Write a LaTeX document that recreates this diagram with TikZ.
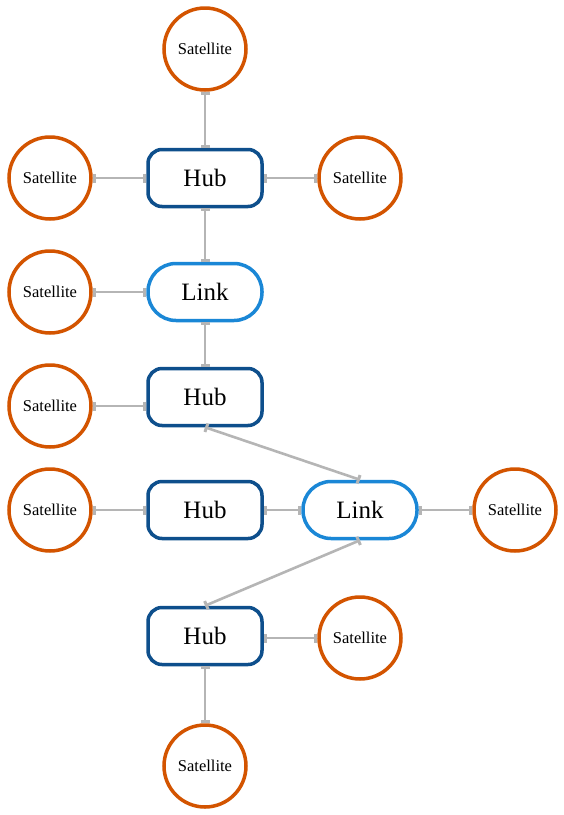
\documentclass[tikz,border=0pt]{standalone}
\usepackage{fontspec}
\setmainfont{Liberation Serif}
\usetikzlibrary{arrows.meta}
\definecolor{satc}{HTML}{D35400}
\definecolor{hubc}{HTML}{0E4F8C}
\definecolor{linkc}{HTML}{1A87D6}
\definecolor{edgec}{HTML}{B5B5B5}
\tikzset{
  sat/.style={circle,draw=satc,line width=3.5pt,minimum size=82pt,inner sep=0pt,fill=white,font=\fontsize{16.5}{19}\selectfont},
  hubbox/.style={rectangle,rounded corners=14pt,draw=hubc,line width=3.5pt,minimum width=114pt,minimum height=57pt,fill=white,font=\fontsize{25}{28}\selectfont},
  linkbox/.style={rectangle,rounded corners=28pt,draw=linkc,line width=3.5pt,minimum width=114pt,minimum height=57pt,fill=white,font=\fontsize{25}{28}\selectfont},
  conn/.style={draw=edgec,line width=2.6pt,{Bar[width=9pt,line width=3pt]}-{Bar[width=9pt,line width=3pt]}}
}
\begin{document}
\begin{tikzpicture}[x=1pt,y=-1pt]
\useasboundingbox (0,0) rectangle (564,815);
\node[sat] (s1) at (205,49) {Satellite};
\node[hubbox] (h1) at (205,178) {Hub};
\node[sat] (s2) at (50,178) {Satellite};
\node[sat] (s3) at (360,178) {Satellite};
\node[linkbox] (l1) at (205,292) {Link};
\node[sat] (s4) at (50,292) {Satellite};
\node[hubbox] (h2) at (205,397) {Hub};
\node[sat] (s5) at (50,406) {Satellite};
\node[hubbox] (h3) at (205,510) {Hub};
\node[sat] (s6) at (50,510) {Satellite};
\node[linkbox] (l2) at (360,510) {Link};
\node[sat] (s7) at (515,510) {Satellite};
\node[hubbox] (h4) at (205,636) {Hub};
\node[sat] (s8) at (360,638) {Satellite};
\node[sat] (s9) at (205,766) {Satellite};
\draw[conn] (s1.south) -- (h1.north);
\draw[conn] (h1.west) -- (s2.east);
\draw[conn] (h1.east) -- (s3.west);
\draw[conn] (h1.south) -- (l1.north);
\draw[conn] (l1.west) -- (s4.east);
\draw[conn] (l1.south) -- (h2.north);
\draw[conn] (s5.east) -- (s5.east -| h2.west);
\draw[conn] (h2.south) -- (l2.north);
\draw[conn] (h3.west) -- (s6.east);
\draw[conn] (h3.east) -- (l2.west);
\draw[conn] (l2.east) -- (s7.west);
\draw[conn] (l2.south) -- (h4.north);
\draw[conn] (s8.west -| h4.east) -- (s8.west);
\draw[conn] (h4.south) -- (s9.north);
\end{tikzpicture}
\end{document}
